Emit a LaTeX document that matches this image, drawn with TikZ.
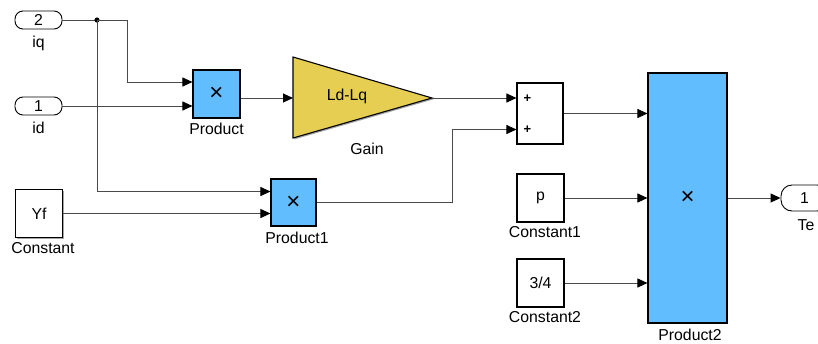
\documentclass[tikz,border=0pt]{standalone}
\usepackage{fontspec}
\setmainfont{Liberation Sans}
\usetikzlibrary{arrows.meta,shadows,calc}

\definecolor{prodblue}{HTML}{62BDFF}
\definecolor{gainyel}{HTML}{E6CE52}
\definecolor{wiregray}{HTML}{4A4A4A}

\begin{document}
\begin{tikzpicture}[
  x=1pt, y=-1pt,
  font=\fontsize{15.8}{18}\selectfont,
  shd/.style={drop shadow={shadow xshift=1.4pt, shadow yshift=-1.4pt, opacity=0.5, fill=black!70}},
  blk/.style={draw, line width=1.1pt, inner sep=0pt, minimum width=47pt, minimum height=48pt, fill=white, shd},
  prd/.style={blk, fill=prodblue, font=\fontsize{24}{24}\selectfont},
  port/.style={draw, line width=0.9pt, rounded corners=8pt, minimum width=47pt, minimum height=18pt, inner sep=0pt, fill=white},
  lbl/.style={inner sep=0pt},
  sgn/.style={lbl, font=\fontsize{13}{13}\selectfont\bfseries},
  wire/.style={wiregray, line width=0.9pt},
  arr/.style={wire, -{Triangle[length=10pt,width=9pt,color=black]}}
]
\clip (0,0) rectangle (818,343);
\fill[white] (0,0) rectangle (818,343);

% inports and constant
\node[port] (iq) at (38.5,20) {2};
\node[lbl] (iqlbl) at (38.5,43) {iq};
\node[port] (id) at (38.5,106) {1};
\node[lbl] (idlbl) at (38.5,128) {id};
\node[blk] (yf) at (39,213.5) {Yf};
\node[lbl] (yflbl) at (43,248) {Constant};

% products and gain
\node[prd] (prod) at (216.5,94) {×};
\node[lbl] (prodlbl) at (216.5,129) {Product};
\node[prd, minimum width=45pt, minimum height=47pt] (prod1) at (293.5,202.5) {×};
\node[lbl] (prod1lbl) at (297,238) {Product1};
\draw[line width=1.1pt, fill=gainyel, shd] (293,57) -- (432,98) -- (293,138) -- cycle;
\coordinate (gin) at (293,98);
\coordinate (gout) at (432,98);
\node[lbl] (gaintxt) at (347,96) {Ld-Lq};
\node[lbl] (gainlbl) at (367,149) {Gain};

% sum, constants, output product
\node[blk, minimum width=46pt, minimum height=61pt] (sum) at (540,113.5) {};
\node[sgn] (plus1) at (527.5,98.5) {+};
\node[sgn] (plus2) at (527.5,130) {+};
\node[blk] (c1) at (540.5,198) {p};
\node[lbl] (c1lbl) at (545,232) {Constant1};
\node[blk] (c2) at (540.5,283) {3/4};
\node[lbl] (c2lbl) at (545,317) {Constant2};
\node[prd, minimum width=79pt, minimum height=250pt] (prod2) at (687.5,198) {×};
\node[lbl] (prod2lbl) at (690,335) {Product2};
\node[port, minimum height=26pt, rounded corners=11pt] (te) at (804.5,198) {1};
\node[lbl] (telbl) at (806,225) {Te};

% signal lines
\coordinate (jn) at (97,20);
\draw[wire] (iq.east) -- (jn);
\fill[black] (jn) circle (2.6pt);
\draw[arr] (jn) -- ++(30,0) |- ($(prod.west)+(0,-12)$);
\draw[arr] (id.east) -- (id.east -| prod.west);
\draw[arr] (jn) |- ($(prod1.west)+(0,-11)$);
\draw[arr] (yf.east) -- (yf.east -| prod1.west);
\draw[arr] (prod.east |- gin) -- (gin);
\draw[arr] (gout) -- (gout -| sum.west);
\draw[arr] (prod1.east) -- ++(136,0) |- ($(sum.west)+(0,16)$);
\draw[arr] (sum.east) -- (sum.east -| prod2.west);
\draw[arr] (c1.east) -- (c1.east -| prod2.west);
\draw[arr] (c2.east) -- (c2.east -| prod2.west);
\draw[arr] (prod2.east) -- (te.west);
\end{tikzpicture}
\end{document}
